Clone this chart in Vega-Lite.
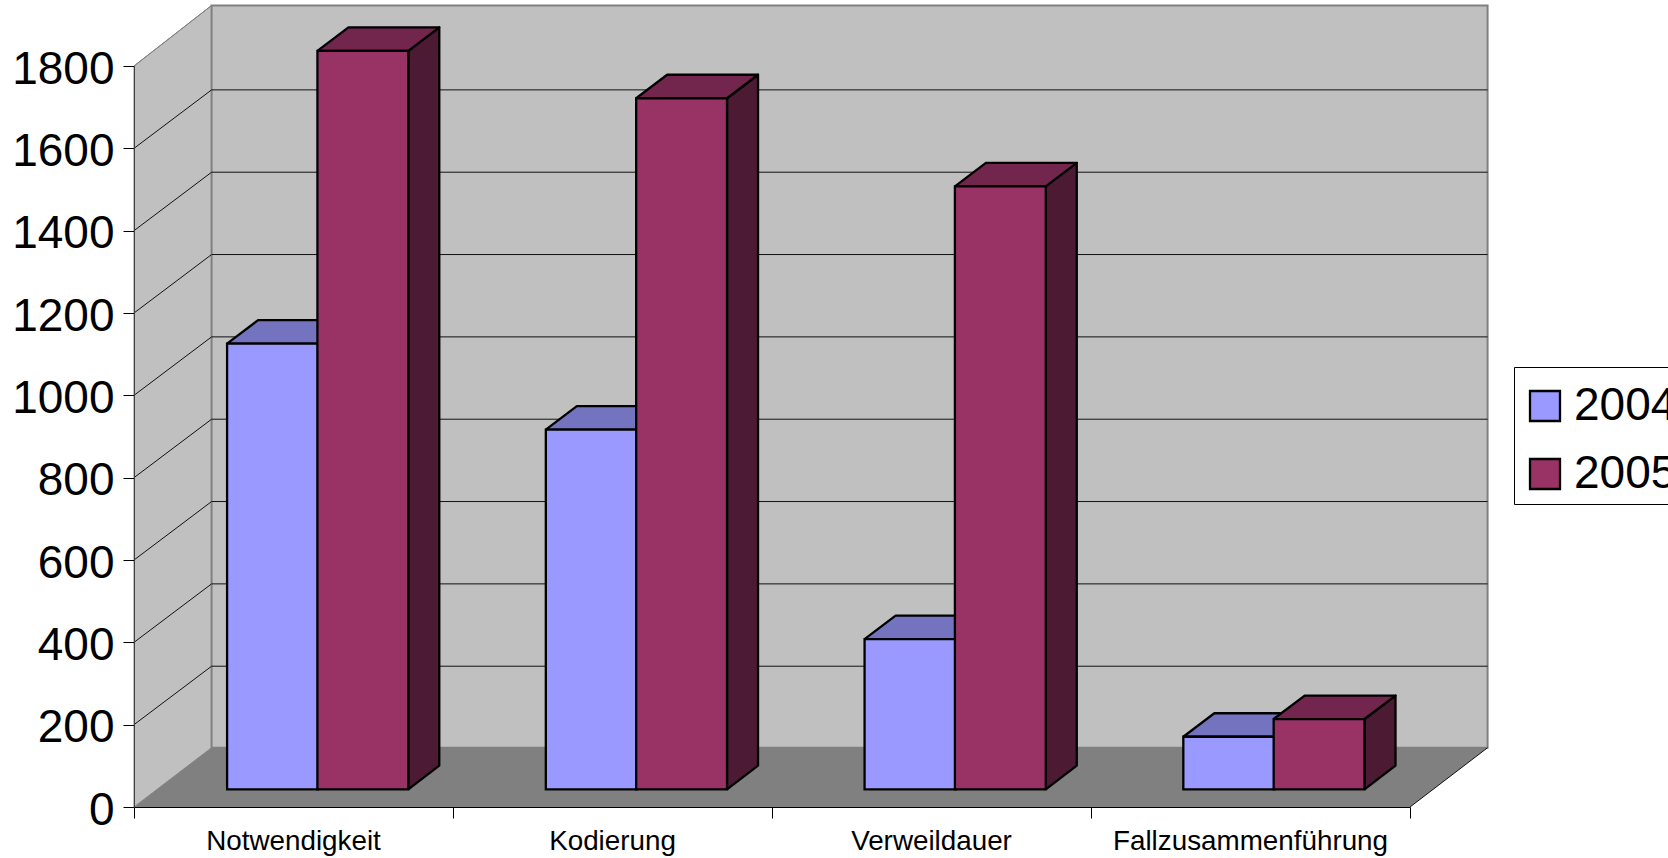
{
  "$schema": "https://vega.github.io/schema/vega-lite/v6.json",
  "width": 1276,
  "height": 741,
  "autosize": {"type": "none"},
  "padding": {"left": 134, "top": 66, "right": 258, "bottom": 51},
  "background": "#ffffff",
  "config": {"view": {"stroke": null}},
  "datasets": {
    "bars": [
      {"category": "Notwendigkeit", "year": "2004", "value": 1083},
      {"category": "Notwendigkeit", "year": "2005", "value": 1794},
      {"category": "Kodierung", "year": "2004", "value": 874},
      {"category": "Kodierung", "year": "2005", "value": 1679},
      {"category": "Verweildauer", "year": "2004", "value": 365},
      {"category": "Verweildauer", "year": "2005", "value": 1465},
      {"category": "Fallzusammenführung", "year": "2004", "value": 128},
      {"category": "Fallzusammenführung", "year": "2005", "value": 171}
    ],
    "ticks": [
      {"tick": 0}, {"tick": 200}, {"tick": 400}, {"tick": 600}, {"tick": 800},
      {"tick": 1000}, {"tick": 1200}, {"tick": 1400}, {"tick": 1600}, {"tick": 1800}
    ],
    "categories": [
      {"category": "Notwendigkeit", "slot": 0},
      {"category": "Kodierung", "slot": 1},
      {"category": "Verweildauer", "slot": 2},
      {"category": "Fallzusammenführung", "slot": 3}
    ]
  },
  "layer": [
    {
      "description": "Left wall of the chart box",
      "data": {"values": [{"plane": "wall"}]},
      "transform": [
        {"calculate": "[0,1,2,3,4]", "as": "seq"},
        {"calculate": "[0,0.2432,0.2432,0,0]", "as": "px"},
        {"calculate": "[0,144,1947,1800,0]", "as": "py"},
        {"flatten": ["seq", "px", "py"]}
      ],
      "mark": {"type": "line", "stroke": "#808080", "strokeWidth": 1, "fill": "#c0c0c0"},
      "encoding": {
        "x": {
          "field": "px", "type": "quantitative",
          "scale": {"domain": [0, 4]},
          "axis": {
            "title": null, "values": [0, 1, 2, 3, 4], "labels": false, "grid": false,
            "tickSize": 11, "tickColor": "#000000", "domainColor": "#000000",
            "tickWidth": 1, "domainWidth": 1, "zindex": 1
          }
        },
        "y": {
          "field": "py", "type": "quantitative",
          "scale": {"domain": [0, 1800]},
          "axis": {
            "title": null, "values": [0, 200, 400, 600, 800, 1000, 1200, 1400, 1600, 1800],
            "grid": false, "format": "d", "tickSize": 11, "tickColor": "#000000",
            "domainColor": "#404040", "tickWidth": 1, "domainWidth": 1,
            "labelFont": "Liberation Sans", "labelFontSize": 46, "labelColor": "#000000",
            "labelPadding": 9, "labelOffset": 3, "labelOverlap": false, "labelBound": false, "labelFlush": false, "zindex": 1
          }
        },
        "order": {"field": "seq", "type": "quantitative"}
      }
    },
    {
      "description": "Back wall of the chart box",
      "data": {"values": [{"plane": "back"}]},
      "mark": {"type": "rect", "fill": "#c0c0c0", "stroke": "#808080", "strokeWidth": 2},
      "encoding": {
        "x": {"datum": 0.2432, "type": "quantitative", "scale": {"domain": [0, 4]}},
        "x2": {"datum": 4.2432},
        "y": {"datum": 144, "type": "quantitative", "scale": {"domain": [0, 1800]}},
        "y2": {"datum": 1947}
      }
    },
    {
      "description": "Floor of the chart box",
      "data": {"values": [{"plane": "floor"}]},
      "transform": [
        {"calculate": "[0,1,2,3,4]", "as": "seq"},
        {"calculate": "[0,4,4.2432,0.2432,0]", "as": "px"},
        {"calculate": "[0,0,144,144,0]", "as": "py"},
        {"flatten": ["seq", "px", "py"]}
      ],
      "mark": {"type": "line", "strokeWidth": 0, "fill": "#808080"},
      "encoding": {
        "x": {"field": "px", "type": "quantitative", "scale": {"domain": [0, 4]}},
        "y": {"field": "py", "type": "quantitative", "scale": {"domain": [0, 1800]}},
        "order": {"field": "seq", "type": "quantitative"}
      }
    },
    {
      "description": "Front right edge of the floor",
      "data": {"values": [{"plane": "edge"}]},
      "mark": {"type": "rule", "stroke": "#111111", "strokeWidth": 1},
      "encoding": {
        "x": {"datum": 4, "type": "quantitative", "scale": {"domain": [0, 4]}},
        "x2": {"datum": 4.2432},
        "y": {"datum": 0, "type": "quantitative", "scale": {"domain": [0, 1800]}},
        "y2": {"datum": 144}
      }
    },
    {
      "description": "Gridlines across the back wall",
      "data": {"name": "ticks"},
      "transform": [
        {"filter": "datum.tick > 0 && datum.tick < 1800"},
        {"calculate": "datum.tick + 142", "as": "backY"}
      ],
      "mark": {"type": "rule", "stroke": "#111111", "strokeWidth": 1},
      "encoding": {
        "x": {"datum": 0.2432, "type": "quantitative", "scale": {"domain": [0, 4]}},
        "x2": {"datum": 4.2432},
        "y": {"field": "backY", "type": "quantitative", "scale": {"domain": [0, 1800]}}
      }
    },
    {
      "description": "Gridlines running up the left wall",
      "data": {"name": "ticks"},
      "transform": [
        {"filter": "datum.tick > 0"},
        {"calculate": "datum.tick === 1800 ? 1947 : datum.tick + 142", "as": "backY"}
      ],
      "mark": {"type": "rule", "strokeWidth": 1},
      "encoding": {
        "x": {"datum": 0, "type": "quantitative", "scale": {"domain": [0, 4]}},
        "x2": {"datum": 0.2432},
        "y": {"field": "tick", "type": "quantitative", "scale": {"domain": [0, 1800]}},
        "y2": {"field": "backY"},
        "stroke": {"condition": {"test": "datum.tick === 1800", "value": "#808080"}, "value": "#111111"}
      }
    },
    {
      "description": "The 3D columns: side faces, top faces and fronts",
      "data": {"name": "bars"},
      "transform": [
        {"calculate": "indexof(['Notwendigkeit','Kodierung','Verweildauer','Fallzusammenführung'], datum.category)", "as": "slot"},
        {"calculate": "datum.slot * 0.9992 + (datum.year === '2004' ? 0.2918 : 0.575)", "as": "left"},
        {"calculate": "datum.left + 0.2848", "as": "right"},
        {"calculate": "datum.value + 42.7", "as": "top"},
        {"calculate": "datum.category + datum.year", "as": "column"},
        {"calculate": "[0,1,2,3,4]", "as": "seq"}
      ],
      "layer": [
        {
          "transform": [
            {"calculate": "datum.year + ' side'", "as": "shade"},
            {"calculate": "[datum.right, datum.right + 0.0972, datum.right + 0.0972, datum.right, datum.right]", "as": "px"},
            {"calculate": "[42.7, 100.7, datum.top + 57, datum.top, 42.7]", "as": "py"},
            {"flatten": ["seq", "px", "py"]}
          ],
          "mark": {"type": "line", "stroke": "#000000", "strokeWidth": 2.3, "strokeJoin": "round"},
          "encoding": {
            "x": {"field": "px", "type": "quantitative", "scale": {"domain": [0, 4]}},
            "y": {"field": "py", "type": "quantitative", "scale": {"domain": [0, 1800]}},
            "detail": {"field": "column"},
            "order": {"field": "seq", "type": "quantitative"},
            "fill": {
              "field": "shade", "type": "nominal", "legend": null,
              "scale": {
                "domain": ["2004 side", "2004 top", "2005 side", "2005 top"],
                "range": ["#4d4d80", "#7373bf", "#4d1a33", "#73264d"]
              }
            }
          }
        },
        {
          "transform": [
            {"calculate": "datum.year + ' top'", "as": "shade"},
            {"calculate": "[datum.left, datum.left + 0.0972, datum.right + 0.0972, datum.right, datum.left]", "as": "px"},
            {"calculate": "[datum.top, datum.top + 57, datum.top + 57, datum.top, datum.top]", "as": "py"},
            {"flatten": ["seq", "px", "py"]}
          ],
          "mark": {"type": "line", "stroke": "#000000", "strokeWidth": 2.3, "strokeJoin": "round"},
          "encoding": {
            "x": {"field": "px", "type": "quantitative", "scale": {"domain": [0, 4]}},
            "y": {"field": "py", "type": "quantitative", "scale": {"domain": [0, 1800]}},
            "detail": {"field": "column"},
            "order": {"field": "seq", "type": "quantitative"},
            "fill": {
              "field": "shade", "type": "nominal", "legend": null,
              "scale": {
                "domain": ["2004 side", "2004 top", "2005 side", "2005 top"],
                "range": ["#4d4d80", "#7373bf", "#4d1a33", "#73264d"]
              }
            }
          }
        },
        {
          "transform": [{"calculate": "42.7", "as": "base"}],
          "mark": {"type": "rect", "stroke": "#000000", "strokeWidth": 2.3, "strokeJoin": "miter"},
          "encoding": {
            "x": {"field": "left", "type": "quantitative", "scale": {"domain": [0, 4]}},
            "x2": {"field": "right"},
            "y": {"field": "base", "type": "quantitative", "scale": {"domain": [0, 1800]}},
            "y2": {"field": "top"},
            "color": {
              "field": "year", "type": "nominal",
              "scale": {"domain": ["2004", "2005"], "range": ["#9999ff", "#993366"]},
              "legend": {
                "title": " ", "titleFontSize": 1, "titlePadding": 8,
                "orient": "none", "legendX": 1380, "legendY": 301,
                "direction": "vertical", "symbolType": "square", "symbolSize": 900,
                "symbolStrokeColor": "#000000", "symbolStrokeWidth": 2.3, "symbolOpacity": 1,
                "symbolOffset": 1,
                "labelFont": "Liberation Sans", "labelFontSize": 46, "labelColor": "#000000",
                "labelOffset": 6, "rowPadding": 22, "padding": 7,
                "fillColor": "#ffffff", "strokeColor": "#000000",
                "labelLimit": 400
              }
            }
          }
        }
      ]
    },
    {
      "description": "Category names under the axis",
      "data": {"name": "categories"},
      "transform": [{"calculate": "datum.slot + 0.5", "as": "mid"}],
      "mark": {
        "type": "text", "font": "Liberation Sans", "fontSize": 27.8, "color": "#000000",
        "align": "center", "baseline": "middle", "dy": 35
      },
      "encoding": {
        "x": {"field": "mid", "type": "quantitative", "scale": {"domain": [0, 4]}},
        "y": {"datum": 0, "type": "quantitative", "scale": {"domain": [0, 1800]}},
        "text": {"field": "category"}
      }
    }
  ],
  "resolve": {"scale": {"fill": "shared"}}
}
